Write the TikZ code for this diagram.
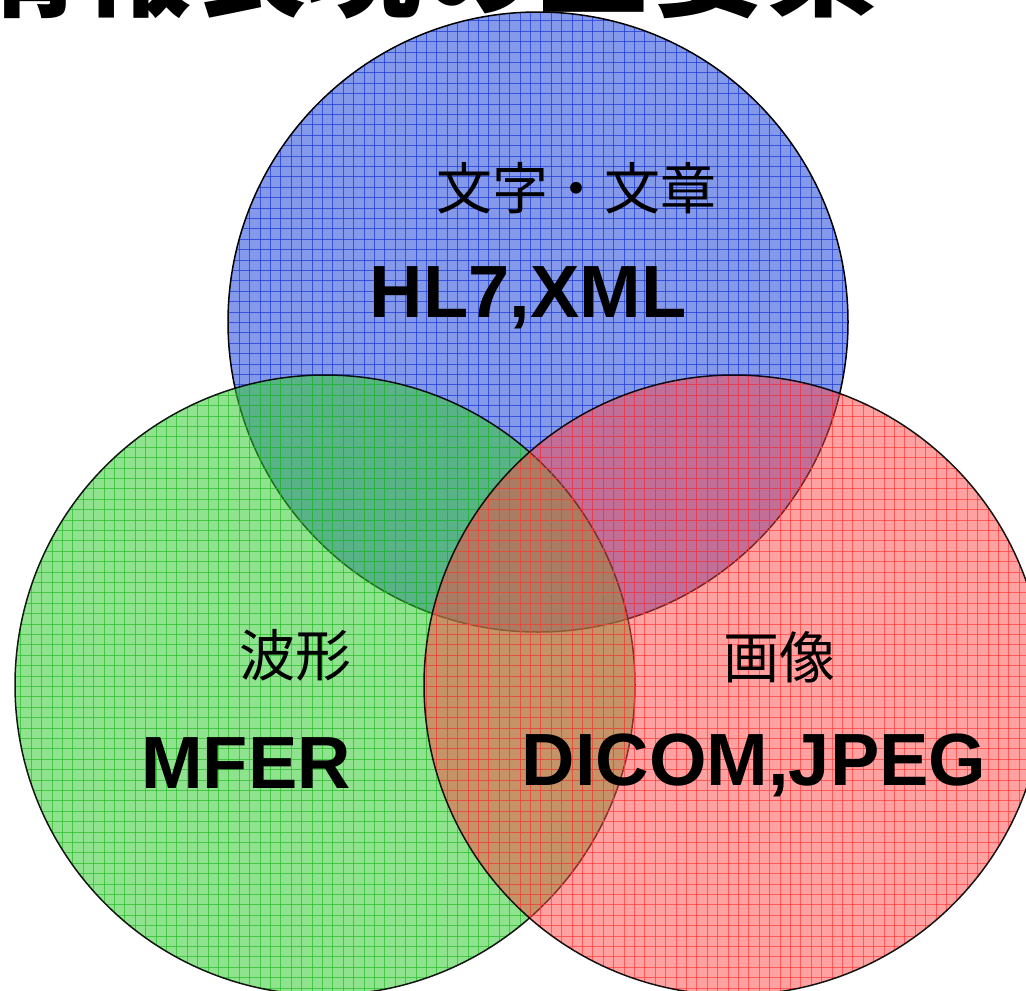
\documentclass[tikz,border=0pt]{standalone}
\usepackage{fontspec}
\setmainfont{Liberation Sans}
\newfontfamily\cjk{Noto Sans CJK JP}
\begin{document}
\begin{tikzpicture}[x=1pt,y=-1pt,
  cjklabel/.style={font=\cjk\fontsize{56}{60}\selectfont, inner sep=0pt},
  biglabel/.style={font=\fontsize{74}{80}\selectfont\bfseries, inner sep=0pt},
  rim/.style={draw=black, line width=1.5pt}]
\useasboundingbox (0,0) rectangle (1026,991);
\clip (0,0) rectangle (1026,991);
\definecolor{bluebase}{RGB}{51,85,221}
\definecolor{blueline}{RGB}{30,60,215}
\definecolor{greenbase}{RGB}{51,204,51}
\definecolor{greenline}{RGB}{40,190,40}
\definecolor{redbase}{RGB}{255,68,68}
\definecolor{redline}{RGB}{255,60,60}
\coordinate (cb) at (538,322);
\coordinate (cg) at (325,685);
\coordinate (cr) at (734,685);
% blue
\begin{scope}
  \clip (cb) circle (310);
  \fill[bluebase, opacity=0.6] (cb) circle (310);
  \foreach \k in {0,...,99} {
    \draw[blueline, opacity=0.75, line width=0.8pt] (\k*10.4,0) -- (\k*10.4,991);
    \draw[blueline, opacity=0.75, line width=0.8pt] (0,\k*10.4) -- (1026,\k*10.4);
  }
\end{scope}
\draw[rim] (cb) circle (310);
% green
\begin{scope}
  \clip (cg) circle (310);
  \fill[greenbase, opacity=0.55] (cg) circle (310);
  \foreach \k in {0,...,99} {
    \draw[greenline, opacity=0.7, line width=0.8pt] (\k*10.4,0) -- (\k*10.4,991);
    \draw[greenline, opacity=0.7, line width=0.8pt] (0,\k*10.4) -- (1026,\k*10.4);
  }
\end{scope}
\draw[rim, draw opacity=0.9] (cg) circle (310);
% red
\begin{scope}
  \clip (cr) circle (310);
  \fill[redbase, opacity=0.5] (cr) circle (310);
  \foreach \k in {0,...,99} {
    \draw[redline, opacity=0.7, line width=0.8pt] (\k*10.4,0) -- (\k*10.4,991);
    \draw[redline, opacity=0.7, line width=0.8pt] (0,\k*10.4) -- (1026,\k*10.4);
  }
\end{scope}
\draw[rim, draw opacity=0.9] (cr) circle (310);
% title (cut off at top)
\node[font=\cjk\bfseries\fontsize{115}{125}\selectfont, inner sep=0pt, anchor=base] (title) at (422,7) {情報表現の三要素};
% labels
\node[cjklabel] (t1) at (576,188) {文字・文章};
\node[biglabel] (t2) at (528,298) {HL7,XML};
\node[cjklabel] (g1) at (295,655) {波形};
\node[biglabel] (g2) at (246,763) {MFER};
\node[cjklabel] (r1) at (779,657) {画像};
\node[biglabel] (r2) at (754,765) {DICOM,JPEG};
\end{tikzpicture}
\end{document}
